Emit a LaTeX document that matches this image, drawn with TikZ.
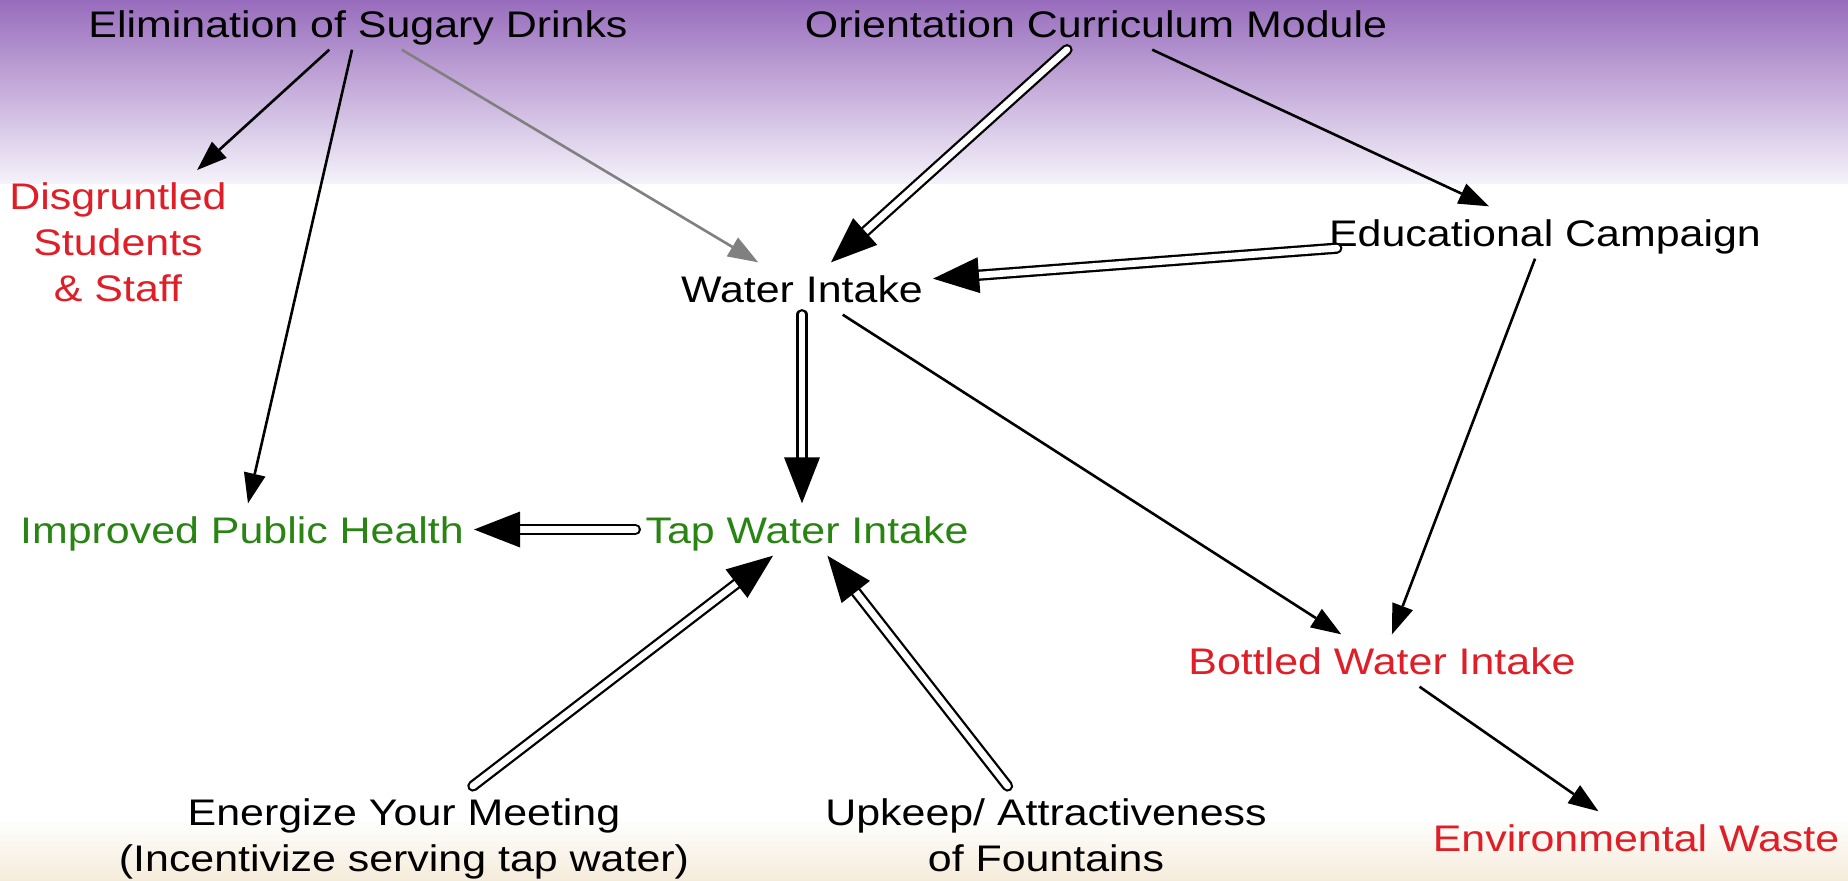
\documentclass[tikz,border=0pt]{standalone}
\usepackage{fontspec}
\setmainfont{Liberation Sans}[FakeStretch=1.16]
\usetikzlibrary{arrows.meta}
\definecolor{topc}{RGB}{152,108,188}
\definecolor{bandend}{RGB}{245,242,250}
\definecolor{beige}{RGB}{245,235,218}
\definecolor{redtxt}{RGB}{224,30,40}
\definecolor{greentxt}{RGB}{42,132,20}
\definecolor{grayarr}{RGB}{128,128,128}
\begin{document}
\begin{tikzpicture}[x=1pt,y=-1pt,
  lbl/.style={font=\fontsize{37}{46}\selectfont, inner xsep=10pt, inner ysep=12.5pt, text height=27pt, text depth=0pt, anchor=base},
  mlbl/.style={font=\fontsize{37}{46}\selectfont, inner xsep=10pt, inner ysep=12.5pt, align=center, anchor=north},
  sarr/.style={line width=2.6pt, -{Triangle[length=30pt,width=22pt,line width=0pt]}},
  darr/.style={line width=2.3pt, double=white, double distance=6.7pt, line cap=round, -{Triangle[length=46pt,width=36pt,line width=0pt]}},
]
\useasboundingbox (0,0) rectangle (1848,881);
\fill[white] (0,0) rectangle (1848,881);
\shade[top color=topc, bottom color=bandend] (0,0) rectangle (1848,183);
\shade[top color=white, bottom color=beige] (0,818) rectangle (1848,881);

\node[lbl] (elim) at (358,37) {Elimination of Sugary Drinks};
\node[lbl] (orient) at (1096,37) {Orientation Curriculum Module};
\node[mlbl, text=redtxt] (disg) at (118,170) {Disgruntled\\Students\\\& Staff};
\node[lbl] (water) at (802,302) {Water Intake};
\node[lbl] (edu) at (1545,246) {Educational Campaign};
\node[lbl, text=greentxt] (health) at (242,543) {Improved Public Health};
\node[lbl, text=greentxt] (tap) at (807,543) {Tap Water Intake};
\node[lbl, text=redtxt] (bottled) at (1382,674) {Bottled Water Intake};
\node[mlbl] (energize) at (404,786) {Energize Your Meeting\\(Incentivize serving tap water)};
\node[mlbl] (upkeep) at (1046,786) {Upkeep/ Attractiveness\\of Fountains};
\node[lbl, text=redtxt] (waste) at (1636,851) {Environmental Waste};

\draw[sarr] (elim) -- (disg);
\draw[sarr] (elim) -- (health);
\draw[sarr, grayarr] (elim) -- (water);
\draw[darr] (orient) -- (water);
\draw[sarr] (orient) -- (edu);
\draw[darr, shorten <=-18pt] (edu) -- (water);
\draw[darr] (water.south) -- (water.south |- tap.north);
\draw[sarr] (water) -- (bottled);
\draw[sarr] (edu) -- (bottled);
\draw[darr] (tap) -- (health);
\draw[darr] (energize) -- (tap);
\draw[darr] (upkeep) -- (tap);
\draw[sarr] (bottled) -- (waste);
\end{tikzpicture}
\end{document}
